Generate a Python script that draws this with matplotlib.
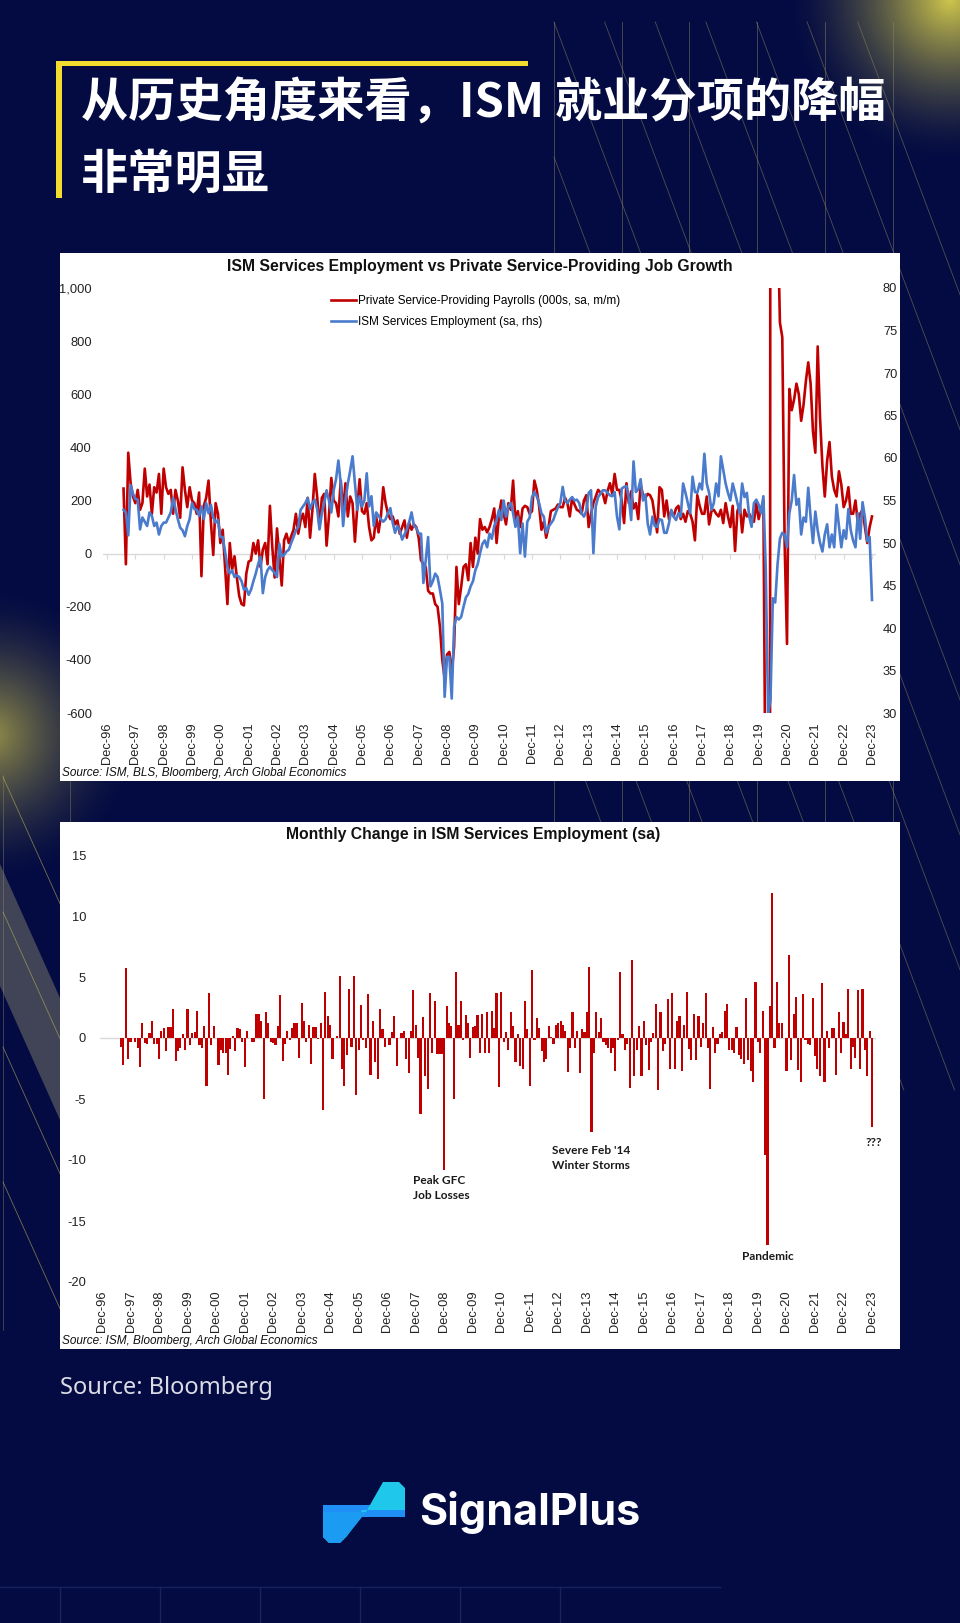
import numpy as np
import matplotlib.pyplot as plt
from matplotlib.patches import Rectangle, Polygon
from matplotlib.lines import Line2D
from matplotlib.font_manager import FontProperties

# ---------------- data ----------------
# Private service-providing payrolls, 000s m/m, Jul-1997 .. Dec-2023
payrolls = [
    245, -40, 380, 265, 215, 190,                                   # 1997 Jul-Dec
    240, 165, 190, 320, 215, 260, 150, 250, 230, 300, 150, 320,     # 1998
    250, 225, 240, 150, 240, 200, 135, 325, 240, 175, 250, 200,     # 1999
    190, 150, 230, -85, 180, 210, 275, 120, -5, 190, 150, 40,       # 2000
    90, -50, -190, 40, -60, -10, -90, -160, -190, -195, -75, -30,   # 2001
    -25, 40, 0, 50, -50, 15, 40, -40, 180, 25, -90, 95,             # 2002
    -15, -120, 50, 75, 40, 65, 90, 150, 75, 125, 150, 100,          # 2003
    210, 60, 165, 300, 215, 100, 210, 225, 30, 140, 285, 200,       # 2004
    190, 140, 275, 160, 265, 140, 215, 190, 45, 175, 280, 160,      # 2005
    150, 190, 100, 50, 60, 140, 80, 140, 250, 190, 150, 130,        # 2006
    140, 110, 125, 75, 100, 125, 60, 115, 90, 110, 100, 60,         # 2007
    -25, -40, -50, -140, -150, -150, -190, -200, -275, -400, -470, -380,  # 2008
    -370, -450, -350, -50, -190, -125, -50, -40, -100, 40, -50, 60,       # 2009
    0, 130, 90, 100, 80, 100, 130, 170, 40, 140, 200, 150,          # 2010
    110, 190, 165, 275, 120, 160, 100, 170, 180, 175, 150, 160,     # 2011
    275, 240, 180, 90, 120, 60, 100, 160, 165, 170, 185, 175,       # 2012
    175, 210, 190, 140, 210, 185, 165, 160, 150, 200, 220, 100,     # 2013
    150, 190, 215, 240, 230, 225, 190, 235, 265, 225, 300, 240,     # 2014
    240, 200, 115, 265, 190, 235, 170, 190, 130, 260, 220, 210,     # 2015
    225, 220, 200, 140, 80, 250, 240, 140, 200, 130, 160, 140,      # 2016
    170, 180, 130, 150, 120, 160, 150, 120, 50, 220, 180, 150,      # 2017
    150, 215, 110, 160, 165, 150, 140, 165, 115, 190, 140, 100,     # 2018
    180, 10, 160, 185, 80, 165, 140, 150, 130, 120, 190, 130,       # 2019
    170, 200, -1100, -15000, 2500, 4000, 1200, 1300, 870, 815, 40, -340,  # 2020
    620, 540, 580, 640, 600, 500, 560, 650, 720, 640, 460, 380,     # 2021
    780, 510, 330, 215, 350, 420, 290, 240, 215, 310, 260, 175,     # 2022
    200, 250, 150, 150, 200, 113, 150, 165, 100, 40, 100, 140,      # 2023
]

# ISM services employment index (rhs), Jul-1997 .. Dec-2023
ism_emp = [
    53.9, 53.6, 50.9, 56.8, 55.8, 55.2,
    55.1, 51.6, 53.0, 52.5, 52.0, 53.6, 53.2, 52.0, 52.4, 51.0, 52.0, 52.4,
    52.4, 53.0, 53.6, 55.3, 54.0, 52.8, 51.8, 51.5, 50.8, 52.0, 52.8, 54.7,
    54.0, 53.9, 53.2, 54.3, 52.8, 54.7, 53.5, 54.5, 53.0, 52.4, 52.7, 50.7,
    50.7, 49.0, 47.2, 46.4, 46.8, 46.0, 46.2, 46.0, 45.5, 44.5, 44.7, 43.9,
    44.5, 45.5, 46.4, 47.5, 48.4, 44.1, 46.0, 46.8, 47.2, 46.8, 46.5, 46.0,
    49.9, 48.4, 48.6, 49.0, 49.2, 50.0, 50.7, 51.5, 51.9, 53.9, 54.3, 54.7,
    55.3, 54.0, 54.7, 55.1, 54.0, 51.6, 53.5, 54.7, 56.2, 55.0, 53.6, 56.2,
    57.5, 59.7, 57.0, 52.0, 55.0, 57.0, 58.5, 60.2, 57.0, 53.9, 55.5, 54.3,
    55.0, 58.2, 54.3, 55.5, 52.0, 53.6, 53.2, 52.8, 52.5, 52.8, 53.5, 54.1,
    52.4, 51.2, 52.0, 51.5, 50.4, 51.0, 51.6, 52.5, 53.6, 52.0, 51.8, 51.1,
    51.1, 45.3, 48.0, 50.7, 44.9, 45.5, 46.4, 46.0, 44.5, 42.9, 31.9, 36.6,
    36.6, 31.7, 40.1, 41.3, 41.0, 41.3, 42.5, 43.6, 44.0, 44.9, 45.5, 46.8,
    47.5, 48.8, 49.9, 50.3, 49.5, 51.1, 50.5, 52.0, 52.7, 53.9, 52.7, 55.0,
    53.1, 54.3, 54.7, 53.5, 51.9, 53.1, 48.8, 52.3, 48.4, 52.5, 53.0, 55.4,
    56.0, 55.5, 54.7, 53.5, 53.1, 51.2, 51.9, 52.3, 52.7, 53.5, 54.2, 54.7,
    56.6, 55.0, 54.7, 55.1, 55.4, 55.0, 55.1, 54.7, 53.5, 53.1, 53.8, 55.9,
    56.2, 48.8, 54.3, 55.4, 55.8, 56.2, 56.2, 55.9, 55.6, 55.5, 56.0, 53.1,
    51.6, 56.4, 56.6, 56.7, 55.3, 52.7, 59.6, 56.0, 56.3, 57.5, 55.0, 55.7,
    52.3, 51.0, 53.1, 52.0, 51.9, 52.8, 52.7, 51.2, 51.2, 52.3, 53.9, 53.1,
    52.7, 53.5, 53.1, 57.0, 55.9, 54.7, 53.5, 57.8, 56.0, 55.9, 57.0, 56.3,
    60.5, 57.0, 55.9, 53.9, 54.7, 57.0, 55.5, 60.2, 58.6, 57.0, 55.9, 55.0,
    57.0, 55.9, 54.7, 53.5, 57.0, 55.4, 55.9, 53.1, 51.9, 54.7, 55.1, 54.5,
    53.5, 55.5, 47.0, 30.0, 31.5, 43.5, 43.0, 47.5, 50.5, 51.2, 51.0, 49.5,
    53.5, 55.0, 58.0, 54.5, 55.2, 51.0, 53.0, 52.5, 56.5, 53.0, 50.0, 53.7,
    51.5, 50.0, 49.0, 51.0, 52.2, 49.5, 51.0, 49.5, 54.5, 52.0, 49.5, 51.5,
    50.5, 54.0, 51.5, 50.3, 49.5, 53.5, 50.5, 54.8, 53.0, 50.2, 50.7, 43.3,
]

# monthly change in ISM services employment, Aug-1997 .. Dec-2023
ism_chg = [
    -0.7, -2.2, 5.7, -1.7, -0.3,
    0.0, -0.3, -0.8, -2.4, 1.2, -0.4, -0.5, 0.4, 1.4, -0.5, -0.5, -1.7,
    0.6, 0.8, -1.1, 0.9, 0.9, 2.4, -1.9, -1.1, -0.8, 0.3, -1.0, 2.4,
    -0.6, 0.4, 0.5, 2.2, -0.6, -0.8, 1.0, -3.9, 3.7, -0.6, 1.0, 0.0,
    -2.2, -1.0, -1.2, -1.2, -3.0, -0.9, 0.2, -1.1, 0.8, 0.7, -0.3, -2.4,
    0.6, 0.0, -0.3, -0.3, 2.0, 2.0, 1.4, -5.0, 2.1, 1.2, -0.3, -0.4,
    -0.6, 1.0, 3.5, -1.9, -0.5, 0.6, -0.2, 0.8, 1.2, 1.2, -1.6, 2.9,
    1.4, -0.3, 1.1, -2.1, 0.9, 0.9, -0.1, 1.2, -5.9, 3.8, 1.8, 1.1,
    -1.7, 0.0, 0.2, 5.1, -2.5, -3.9, -1.4, 4.0, -0.7, 5.1, -4.7, -1.0,
    2.7, -0.2, -0.8, 3.6, -3.0, 1.4, -2.0, -3.4, 2.4, 0.7, -0.7, 0.0,
    -0.6, 0.5, 1.8, -2.3, 0.0, 0.4, 0.6, -1.7, -2.9, 0.6, 3.9, 1.1,
    -1.6, -6.2, 1.7, -3.1, -4.2, 3.7, -1.2, 3.0, -1.3, -1.3, -1.3, -10.8,
    2.6, 1.2, 1.0, -5.0, 5.4, 1.1, 3.0, -0.2, 1.9, 1.2, -1.6, 0.9,
    1.0, 1.9, -1.2, 2.0, -1.2, 2.1, -1.2, 2.2, 0.8, 3.7, -4.0, 3.8,
    -0.3, 0.5, -1.0, 2.1, 1.0, -2.0, 0.3, -2.3, -2.5, 3.0, 0.7, -3.9,
    5.6, -0.2, 1.6, 0.8, -1.1, -2.0, -1.7, 1.0, 0.1, -0.5, 1.1, 1.2,
    1.4, 1.1, 0.6, -2.8, -0.8, 2.1, -0.8, 0.6, -2.9, 0.7, 0.5, 2.1,
    5.8, -7.7, -1.2, 2.1, 0.5, 1.6, -0.3, -0.6, -0.8, -1.2, -0.8, -2.7,
    -0.2, 5.4, 0.3, -1.0, -0.5, -4.1, 6.4, -3.1, -1.0, 1.0, -3.1, 1.4,
    -0.6, -2.6, -0.3, 0.4, 2.8, -4.3, 2.1, -1.1, -0.5, 3.2, -2.5, 3.7,
    -2.5, 1.4, 1.8, -2.7, 1.1, 3.8, -0.9, -1.8, 2.0, -1.8, 1.8, -0.7,
    1.2, 3.7, -0.8, -4.2, 0.9, -1.2, -0.5, 0.3, 0.5, 2.2, 2.8, -1.0,
    -1.0, -1.2, 0.9, -1.4, -1.7, -2.1, 3.3, -1.8, -2.7, -3.6, 4.6, -0.3,
    -1.2, 2.2, -9.6, -17.0, 2.6, 11.9, -0.8, 4.6, 1.2, 1.2, 0.0, -2.7,
    6.8, -1.8, 2.0, 3.4, -2.6, -3.6, 3.6, -0.2, -0.5, -0.6, 3.3, -1.5,
    -2.5, -3.1, 4.5, -3.6, 0.6, -0.8, 0.8, 0.8, -3.0, 2.1, -1.2, 1.3,
    0.3, 4.0, -2.5, -0.7, -1.6, 3.9, -2.5, 4.0, -1.0, -3.1, 0.6, -7.3,
]

tick_years = list(range(1996, 2024))
tick_labels = ['Dec-96', 'Dec-97', 'Dec-98', 'Dec-99', 'Dec-00', 'Dec-01', 'Dec-02',
               'Dec-03', 'Dec-04', 'Dec-05', 'Dec-06', 'Dec-07', 'Dec-08', 'Dec-09',
               'Dec-10', 'Dec-11', 'Dec-12', 'Dec-13', 'Dec-14', 'Dec-15', 'Dec-16',
               'Dec-17', 'Dec-18', 'Dec-19', 'Dec-20', 'Dec-21', 'Dec-22', 'Dec-23']
legend_labels = ['Private Service-Providing Payrolls (000s, sa, m/m)',
                 'ISM Services Employment (sa, rhs)']
notes = [('Peak GFC\nJob Losses', 413, 1188, 'left'),
         ("Severe Feb '14\nWinter Storms", 591, 1158, 'center'),
         ('Pandemic', 768, 1257, 'center'),
         ('???', 874, 1142, 'center')]

# ---------------- style ----------------
W, H = 960, 1623
NAVY = '#030b42'
RED = '#c00000'
BLUE = '#4a7bcc'
SANS = ['Liberation Sans', 'DejaVu Sans']
CJK = ['Noto Sans CJK SC', 'DejaVu Sans']


def rect(x0, y0, x1, y1):
    return [x0 / W, 1 - y1 / H, (x1 - x0) / W, (y1 - y0) / H]


fig = plt.figure(figsize=(W / 100, H / 100), dpi=100, facecolor=NAVY)
bg = fig.add_axes([0, 0, 1, 1])
bg.set_facecolor(NAVY)
bg.axis('off')


def glow(cx, cy, r, rgb, amax):
    n = 240
    xs = np.linspace(cx - r, cx + r, n)
    ys = np.linspace(cy - r, cy + r, n)
    X, Y = np.meshgrid(xs, ys)
    d = np.hypot(X - cx, Y - cy) / r
    img = np.zeros((n, n, 4))
    img[..., :3] = rgb
    img[..., 3] = np.clip(1 - d, 0, 1) ** 1.6 * amax
    bg.imshow(img, extent=(cx - r, cx + r, cy + r, cy - r), aspect='auto',
              zorder=0.5, interpolation='bilinear')


glow(950, 0, 165, (0.86, 0.82, 0.30), 0.95)
glow(-10, 735, 150, (0.78, 0.74, 0.30), 0.75)

# decorative line grid (top right and left edge)
DEC = '#8c8a5c'
for k in range(7):
    xk = 554 + 67.7 * k
    bg.plot([xk, xk], [22, 822], color=DEC, lw=0.6, alpha=0.55, zorder=0.6)
for j in range(-6, 9):
    y0 = 22 + 135 * j
    xa = 554 + max(0.0, (22 - y0) * 0.375)
    xb = min(975.0, 554 + (1090 - y0) * 0.375)
    if xb > xa:
        bg.plot([xa, xb], [y0 + (xa - 554) / 0.375, y0 + (xb - 554) / 0.375],
                color=DEC, lw=0.6, alpha=0.55, zorder=0.6)
bg.plot([3, 3], [775, 1330], color=DEC, lw=0.6, alpha=0.5, zorder=0.6)
bg.plot([70, 70], [781, 822], color=DEC, lw=0.6, alpha=0.5, zorder=0.6)
for y0 in [777, 912, 1047, 1182]:
    bg.plot([3, 70], [y0, y0 + 67 / 0.45], color='#bdb65a', lw=0.6, alpha=0.6, zorder=0.6)
bg.add_patch(Polygon([(0, 864), (0, 986), (60, 1120), (60, 998)], closed=True,
                     facecolor='#8d8a70', alpha=0.45, lw=0, zorder=0.55))

# bottom grid
bg.plot([0, 720], [1587, 1587], color='#1a2360', lw=1, zorder=0.6)
for xg in [60, 160, 260, 360, 460, 560]:
    bg.plot([xg, xg], [1587, 1623], color='#1a2360', lw=1, zorder=0.6)

# yellow accent + title
bg.add_patch(Rectangle((57, 61), 471, 5, color='#f3dc2f', lw=0, zorder=2))
bg.add_patch(Rectangle((56, 61), 6, 137, color='#f3dc2f', lw=0, zorder=2))
bg.text(81, 104, '从历史角度来看，ISM 就业分项的降幅', color='white', fontsize=34,
        fontweight='bold', family=CJK, va='center', ha='left', zorder=3)
bg.text(81, 175, '非常明显', color='white', fontsize=34,
        fontweight='bold', family=CJK, va='center', ha='left', zorder=3)

# white panels
bg.add_patch(Rectangle((60, 253), 840, 528, color='white', lw=0, zorder=1))
bg.add_patch(Rectangle((60, 822), 840, 527, color='white', lw=0, zorder=1))

# chart texts
bg.text(480, 267, 'ISM Services Employment vs Private Service-Providing Job Growth',
        fontsize=11.3, fontweight='bold', family=SANS, ha='center', va='center',
        color='#111111', zorder=3)
bg.text(62, 773, 'Source: ISM, BLS, Bloomberg, Arch Global Economics', fontsize=8.5,
        style='italic', family=SANS, ha='left', va='center', color='#111111', zorder=3)
bg.text(473, 835, 'Monthly Change in ISM Services Employment (sa)',
        fontsize=11.3, fontweight='bold', family=SANS, ha='center', va='center',
        color='#111111', zorder=3)
bg.text(62, 1341, 'Source: ISM, Bloomberg, Arch Global Economics', fontsize=8.5,
        style='italic', family=SANS, ha='left', va='center', color='#111111', zorder=3)
for txt, xn, yn, al in notes:
    bg.text(xn, yn, txt, fontsize=8.6, fontweight='bold', family=['Lato', 'DejaVu Sans'],
            ha=al, va='center', multialignment=al, linespacing=1.35,
            color='#1a1a1a', zorder=3)

# footer
bg.text(60, 1388, 'Source: Bloomberg', fontsize=17, family=['Noto Sans', 'DejaVu Sans'],
        color='#dcdce6', ha='left', va='center', zorder=3)
bg.add_patch(Polygon([(323, 1505), (405, 1505), (405, 1517), (323, 1517)], closed=True,
                     facecolor='#1f8ff5', lw=0, zorder=3))
bg.add_patch(Polygon([(383, 1482), (399, 1482), (405, 1488), (405, 1510), (362, 1510),
                      (347, 1536), (340, 1543), (329, 1543), (323, 1537), (323, 1512),
                      (366, 1512)], closed=True, facecolor='#1fc8ea', lw=0, zorder=3.1))
bg.add_patch(Polygon([(323, 1512), (366, 1512), (347, 1536), (340, 1543), (329, 1543),
                      (323, 1537)], closed=True, facecolor='#1b9cf2', lw=0, zorder=3.2))
bg.text(419, 1512, 'SignalPlus', fontsize=31, fontweight='bold',
        family=['Inter', 'Lato', 'DejaVu Sans'], color='white', ha='left', va='center', zorder=3)

bg.set_xlim(0, W)
bg.set_ylim(H, 0)

tick_pos = [y + 11 / 12 for y in tick_years]
tick_font = FontProperties(family=SANS, size=9.3)

# ---------------- chart 1 ----------------
px1 = (872 - 107) / 27.0
ax1 = fig.add_axes(rect(103, 288, 876, 713))
ax1.set_facecolor('none')
t1 = 1997.5 + np.arange(len(payrolls)) / 12
ax1.axhline(0, color='#d9d9d9', lw=1.0, zorder=0)
ax1.vlines(tick_pos, -20, 0, color='#d9d9d9', lw=0.8, zorder=0)
ax1.plot(t1, payrolls, color=RED, lw=1.9, zorder=2)
ax1.set_xlim(tick_pos[0] - 4 / px1, tick_pos[-1] + 4 / px1)
ax1.set_ylim(-600, 1000)
ax1.set_yticks(range(-600, 1001, 200))
ax1.set_yticklabels([f'{v:,}' for v in range(-600, 1001, 200)], fontproperties=tick_font)
ax1.set_xticks(tick_pos)
ax1.set_xticklabels(tick_labels, rotation=90, fontproperties=tick_font)
ax1.tick_params(axis='y', length=0, pad=8, colors='#222222')
ax1.tick_params(axis='x', length=0, pad=6.5, colors='#222222')
for s in ax1.spines.values():
    s.set_visible(False)

ax1r = ax1.twinx()
t2 = 1997.5 + np.arange(len(ism_emp)) / 12
ax1r.plot(t2, ism_emp, color=BLUE, lw=1.9, zorder=3)
ax1r.set_ylim(30, 80)
ax1r.set_yticks(range(30, 81, 5))
ax1r.set_yticklabels([str(v) for v in range(30, 81, 5)], fontproperties=tick_font)
ax1r.tick_params(axis='y', length=0, pad=5, colors='#222222')
for s in ax1r.spines.values():
    s.set_visible(False)

handles = [Line2D([], [], color=RED, lw=1.9), Line2D([], [], color=BLUE, lw=1.9)]
fig.legend(handles, legend_labels, loc='upper left', bbox_to_anchor=(331 / W, 1 - 295 / H),
           frameon=False, prop=FontProperties(family=SANS, size=8.5),
           handlelength=2.1, handletextpad=0.15, labelspacing=0.75,
           borderpad=0, borderaxespad=0)

# ---------------- chart 2 ----------------
px2 = (872 - 102) / 27.0
ax2 = fig.add_axes(rect(100, 855, 876, 1282))
ax2.set_facecolor('none')
t3 = 1997 + 7 / 12 + np.arange(len(ism_chg)) / 12
ax2.axhline(0, color='#d9d9d9', lw=1.0, zorder=0)
ax2.bar(t3, ism_chg, width=0.075, color=RED, lw=0, zorder=2)
ax2.set_xlim(tick_pos[0] - 2 / px2, tick_pos[-1] + 4 / px2)
ax2.set_ylim(-20, 15)
ax2.set_yticks(range(-20, 16, 5))
ax2.set_yticklabels([str(v) for v in range(-20, 16, 5)], fontproperties=tick_font)
ax2.set_xticks(tick_pos)
ax2.set_xticklabels(tick_labels, rotation=90, fontproperties=tick_font)
ax2.tick_params(axis='y', length=0, pad=10, colors='#222222')
ax2.tick_params(axis='x', length=0, pad=6, colors='#222222')
for s in ax2.spines.values():
    s.set_visible(False)

fig.savefig('out.png', dpi=100, facecolor=NAVY)
